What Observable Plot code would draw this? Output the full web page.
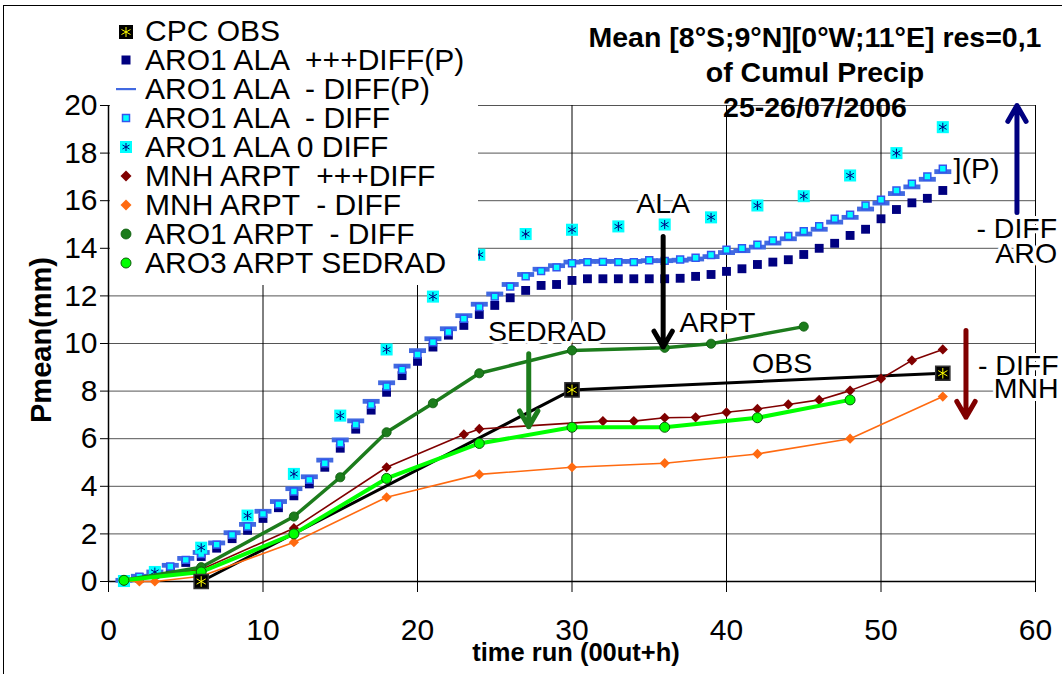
<!DOCTYPE html>
<html><head><meta charset="utf-8">
<script src="https://cdn.jsdelivr.net/npm/d3@7"></script>
<script src="https://cdn.jsdelivr.net/npm/@observablehq/plot@0.6"></script>
<style>
body{margin:0;background:#fff;}
#wrap{position:relative;width:1062px;height:674px;overflow:hidden;font-family:"Liberation Sans",Arial,sans-serif;color:#000;}
#frame{position:absolute;left:3px;top:5px;width:1100px;height:700px;border-left:1px solid #000;border-top:1px solid #000;}
#chart{position:absolute;left:0;top:0;}
#title{position:absolute;left:540px;width:550px;top:20px;text-align:center;font-weight:bold;font-size:28.5px;line-height:35px;}
#legend{position:absolute;left:110px;top:17px;width:368px;height:268px;background:#fff;}
.row{position:relative;height:28.95px;font-size:30px;line-height:28.95px;white-space:pre;}
.row svg{position:absolute;left:4px;top:2.5px;}
.row span{position:absolute;left:35px;top:0;}
#xlab{position:absolute;left:376px;width:400px;top:638px;text-align:center;font-weight:bold;font-size:25.5px;}
#ylab{position:absolute;left:41px;top:340px;transform:translate(-50%,-50%) rotate(-90deg);font-weight:bold;font-size:29px;white-space:nowrap;}
</style></head>
<body>
<div id="wrap">
<div id="frame"></div>
<div id="chart"></div>
<div id="legend"></div>
<div id="title">Mean [8°S;9°N][0°W;11°E] res=0,1<br>of Cumul Precip<br>25-26/07/2006</div>
<div id="xlab">time run (00ut+h)</div>
<div id="ylab">Pmean(mm)</div>
</div>
<script>
// ---- data ----
const xTicks = [0,10,20,30,40,50,60];
const yTicks = [0,2,4,6,8,10,12,14,16,18,20];

const hours = [1,2,3,4,5,6,7,8,9,10,11,12,13,14,15,16,17,18,19,20,21,22,23,24,25,26,27,28,29,30,31,32,33,34,35,36,37,38,39,40,41,42,43,44,45,46,47,48,49,50,51,52,53,54];

const cpcHours = [6,30,54];
const cpcObs = [0,8.05,8.75];

const alaPlusP = [0.05,0.15,0.3,0.55,0.8,1.05,1.4,1.8,2.15,2.65,3.1,3.6,4.1,4.8,5.6,6.4,7.2,7.95,8.65,9.25,9.85,10.35,10.76,11.22,11.6,11.92,12.23,12.44,12.48,12.65,12.72,12.72,12.72,12.72,12.72,12.72,12.74,12.82,12.9,13.03,13.14,13.32,13.42,13.52,13.74,14.0,14.21,14.54,14.8,15.24,15.63,15.91,16.1,16.43];

const alaMinusP = [0.05,0.22,0.4,0.68,0.97,1.22,1.62,2.05,2.4,2.95,3.36,3.9,4.4,5.1,5.95,6.75,7.57,8.35,9.05,9.7,10.2,10.62,11.17,11.65,12.08,12.48,12.9,13.12,13.27,13.42,13.45,13.45,13.45,13.45,13.48,13.48,13.5,13.55,13.65,13.82,13.9,14.05,14.22,14.4,14.6,14.8,15.1,15.3,15.65,15.9,16.3,16.58,16.9,17.22];

const alaMinus = [0.05,0.2,0.38,0.63,0.91,1.15,1.55,1.96,2.31,2.84,3.24,3.78,4.27,4.97,5.81,6.6,7.42,8.19,8.9,9.54,10.05,10.48,11.04,11.53,11.97,12.39,12.82,13.04,13.2,13.37,13.42,13.43,13.42,13.42,13.5,13.47,13.53,13.6,13.72,13.94,14.0,14.15,14.33,14.52,14.72,14.93,15.24,15.41,15.8,16.04,16.43,16.71,17.02,17.34];

const ala0Hours = [1,3,6,9,12,15,18,21,24,27,30,33,36,39,42,45,48,51,54];
const ala0 = [0.02,0.4,1.42,2.77,4.52,6.97,9.75,11.97,13.73,14.6,14.78,14.92,15.0,15.3,15.8,16.19,17.06,18.0,19.09];

const mnhPlusHours = [1,6,12,18,23,24,32,34,36,38,40,42,44,46,48,50,52,54];
const mnhPlus = [0.05,0.5,2.24,4.8,6.18,6.41,6.74,6.74,6.88,6.9,7.11,7.25,7.44,7.63,8.02,8.52,9.29,9.75];

const mnhMinusHours = [1,2,3,6,12,18,24,30,36,42,48,54];
const mnhMinus = [0.02,0.0,0.0,0.22,1.65,3.54,4.5,4.8,4.97,5.36,6.0,7.77];

const aro1ArptHours = [1,6,12,15,18,21,24,30,36,39,45];
const aro1Arpt = [0.05,0.6,2.73,4.38,6.27,7.49,8.75,9.71,9.82,9.99,10.71];

const aro3Hours = [1,6,12,18,24,30,36,42,48];
const aro3Sedrad = [0.05,0.4,2.0,4.33,5.8,6.48,6.48,6.88,7.63];

const legendLabels = ["CPC OBS","ARO1 ALA  +++DIFF(P)","ARO1 ALA  - DIFF(P)","ARO1 ALA  - DIFF","ARO1 ALA 0 DIFF","MNH ARPT  +++DIFF","MNH ARPT  - DIFF","ARO1 ARPT  - DIFF","ARO3 ARPT SEDRAD"];

const noteLabels = ["ALA","ARPT","SEDRAD","OBS","](P)","- DIFF","ARO","- DIFF","MNH"];
const noteX = [35.9,36.95,28.4,43.6,54.7,61.4,61.4,61.5,61.5];
const noteY = [15.87,10.85,10.5,9.15,17.34,14.82,13.77,9.08,8.1];
const noteAnchor = ["middle","start","middle","middle","start","end","end","end","end"];

const arrowX = [35.9,27.2,58.8,55.5];
const arrowFrom = [14.5,9.57,15.5,10.55];
const arrowTo = [9.85,6.5,20.0,6.9];
const arrowColor = ["#000000","#1c7c1c","#000080","#800000"];

// ---- styles ----
const C = {
  navy:"#000080", blue:"#4169e1", cyan:"#00ffff", cyanEdge:"#3355ee",
  dred:"#800000", orange:"#ff6a10", dgreen:"#1c7c1c", lgreen:"#00ff00"
};
const dashSymbol = {draw(ctx){ const w=8.5,h=2.4; ctx.moveTo(-w,-h); ctx.lineTo(w,-h); ctx.lineTo(w,h); ctx.lineTo(-w,h); ctx.closePath(); }};

const noteMarks = ["start","middle","end"].map(a =>
  Plot.text(noteLabels, {x:noteX, y:noteY, text:d=>d, filter:(d,i)=>noteAnchor[i]===a, textAnchor:a,
    fontSize:28.5, fill:"#000", stroke:"#fff", strokeWidth:6, paintOrder:"stroke"}));

const chart = Plot.plot({
  width:1062, height:674,
  marginLeft:108, marginRight:27, marginTop:105, marginBottom:93,
  style:{fontFamily:'"Liberation Sans",Arial,sans-serif', background:"transparent", color:"#000", overflow:"visible"},
  x:{domain:[0,60]},
  y:{domain:[0,20]},
  marks:[
    Plot.gridY(yTicks, {stroke:"#555", strokeOpacity:1}),
    Plot.gridX(xTicks, {stroke:"#000", strokeOpacity:1}),
    Plot.axisY({ticks:yTicks, tickSize:8, tickPadding:3, fontSize:30, label:null}),
    Plot.axisX({ticks:xTicks, tickSize:11, tickPadding:26, fontSize:30, label:null}),
    Plot.ruleY([0], {stroke:"#000", strokeWidth:1.5}),
    Plot.ruleX([0], {stroke:"#000", strokeWidth:1.5}),
    // CPC OBS
    Plot.line(cpcObs, {x:cpcHours, y:d=>d, stroke:"#000", strokeWidth:3}),
    // ARO1 ALA +++DIFF(P)
    Plot.dot(alaPlusP, {x:hours, y:d=>d, symbol:"square", r:5, fill:C.navy}),
    // ARO1 ALA - DIFF(P)
    Plot.dot(alaMinusP, {x:hours, y:d=>d, symbol:dashSymbol, fill:C.blue}),
    // ARO1 ALA - DIFF
    Plot.dot(alaMinus, {x:hours, y:d=>d, symbol:"square", r:3.9, fill:C.cyan, stroke:C.cyanEdge, strokeWidth:1.5}),
    // ARO1 ALA 0 DIFF
    Plot.dot(ala0, {x:ala0Hours, y:d=>d, symbol:"square", r:6.8, fill:C.cyan}),
    Plot.dot(ala0, {x:ala0Hours, y:d=>d, symbol:"asterisk", r:4.2, stroke:C.navy, strokeWidth:1}),
    // MNH ARPT +++DIFF
    Plot.line(mnhPlus, {x:mnhPlusHours, y:d=>d, stroke:C.dred, strokeWidth:1.6}),
    Plot.dot(mnhPlus, {x:mnhPlusHours, y:d=>d, symbol:"diamond2", r:4.6, fill:C.dred}),
    // MNH ARPT - DIFF
    Plot.line(mnhMinus, {x:mnhMinusHours, y:d=>d, stroke:C.orange, strokeWidth:1.6}),
    Plot.dot(mnhMinus, {x:mnhMinusHours, y:d=>d, symbol:"diamond2", r:4.6, fill:C.orange}),
    // ARO1 ARPT - DIFF
    Plot.line(aro1Arpt, {x:aro1ArptHours, y:d=>d, stroke:C.dgreen, strokeWidth:3.5}),
    Plot.dot(aro1Arpt, {x:aro1ArptHours, y:d=>d, r:4.6, fill:C.dgreen, stroke:"#0a5a0a", strokeWidth:0.8}),
    // ARO3 ARPT SEDRAD
    Plot.line(aro3Sedrad, {x:aro3Hours, y:d=>d, stroke:C.lgreen, strokeWidth:4}),
    Plot.dot(aro3Sedrad, {x:aro3Hours, y:d=>d, r:5, fill:C.lgreen, stroke:"#0a5a0a", strokeWidth:1}),
    // CPC markers on top
    Plot.dot(cpcObs, {x:cpcHours, y:d=>d, symbol:"square", r:8, fill:"#000", stroke:"#333"}),
    Plot.dot(cpcObs, {x:cpcHours, y:d=>d, symbol:"asterisk", r:5, stroke:"#ffff00", strokeWidth:1}),
    // annotations
    ...noteMarks,
    Plot.arrow(arrowX, {x1:d=>d, x2:d=>d, y1:(d,i)=>arrowFrom[i], y2:(d,i)=>arrowTo[i], stroke:(d,i)=>arrowColor[i], strokeWidth:5, headLength:5.5, headAngle:60, bend:0})
  ]
});
document.getElementById("chart").appendChild(chart);

// ---- legend ----
const swatches = [
  `<rect x="5" y="5" width="14" height="14" fill="#000"/><g stroke="#ff0" stroke-width="1"><line x1="12" y1="7" x2="12" y2="17"/><line x1="7.5" y1="9.5" x2="16.5" y2="14.5"/><line x1="7.5" y1="14.5" x2="16.5" y2="9.5"/></g>`,
  `<rect x="7.5" y="7.5" width="9" height="9" fill="${C.navy}"/>`,
  `<rect x="2" y="11" width="20" height="2.2" fill="${C.blue}"/>`,
  `<rect x="8.5" y="8.5" width="7" height="7" fill="${C.cyan}" stroke="${C.cyanEdge}" stroke-width="1.5"/>`,
  `<rect x="6" y="6" width="12" height="12" fill="${C.cyan}"/><g stroke="${C.navy}" stroke-width="1"><line x1="12" y1="8" x2="12" y2="16"/><line x1="8.5" y1="10" x2="15.5" y2="14"/><line x1="8.5" y1="14" x2="15.5" y2="10"/></g>`,
  `<path d="M12 6.5L17.5 12L12 17.5L6.5 12Z" fill="${C.dred}"/>`,
  `<path d="M12 6.5L17.5 12L12 17.5L6.5 12Z" fill="${C.orange}"/>`,
  `<circle cx="12" cy="12" r="5" fill="${C.dgreen}" stroke="#0a5a0a" stroke-width="0.8"/>`,
  `<circle cx="12" cy="12" r="5" fill="${C.lgreen}" stroke="#0a5a0a" stroke-width="1"/>`
];
const leg = document.getElementById("legend");
legendLabels.forEach((lab,i)=>{
  const r = document.createElement("div");
  r.className = "row";
  r.innerHTML = `<svg width="24" height="24">${swatches[i]}</svg><span>${lab}</span>`;
  leg.appendChild(r);
});
</script>
</body></html>
